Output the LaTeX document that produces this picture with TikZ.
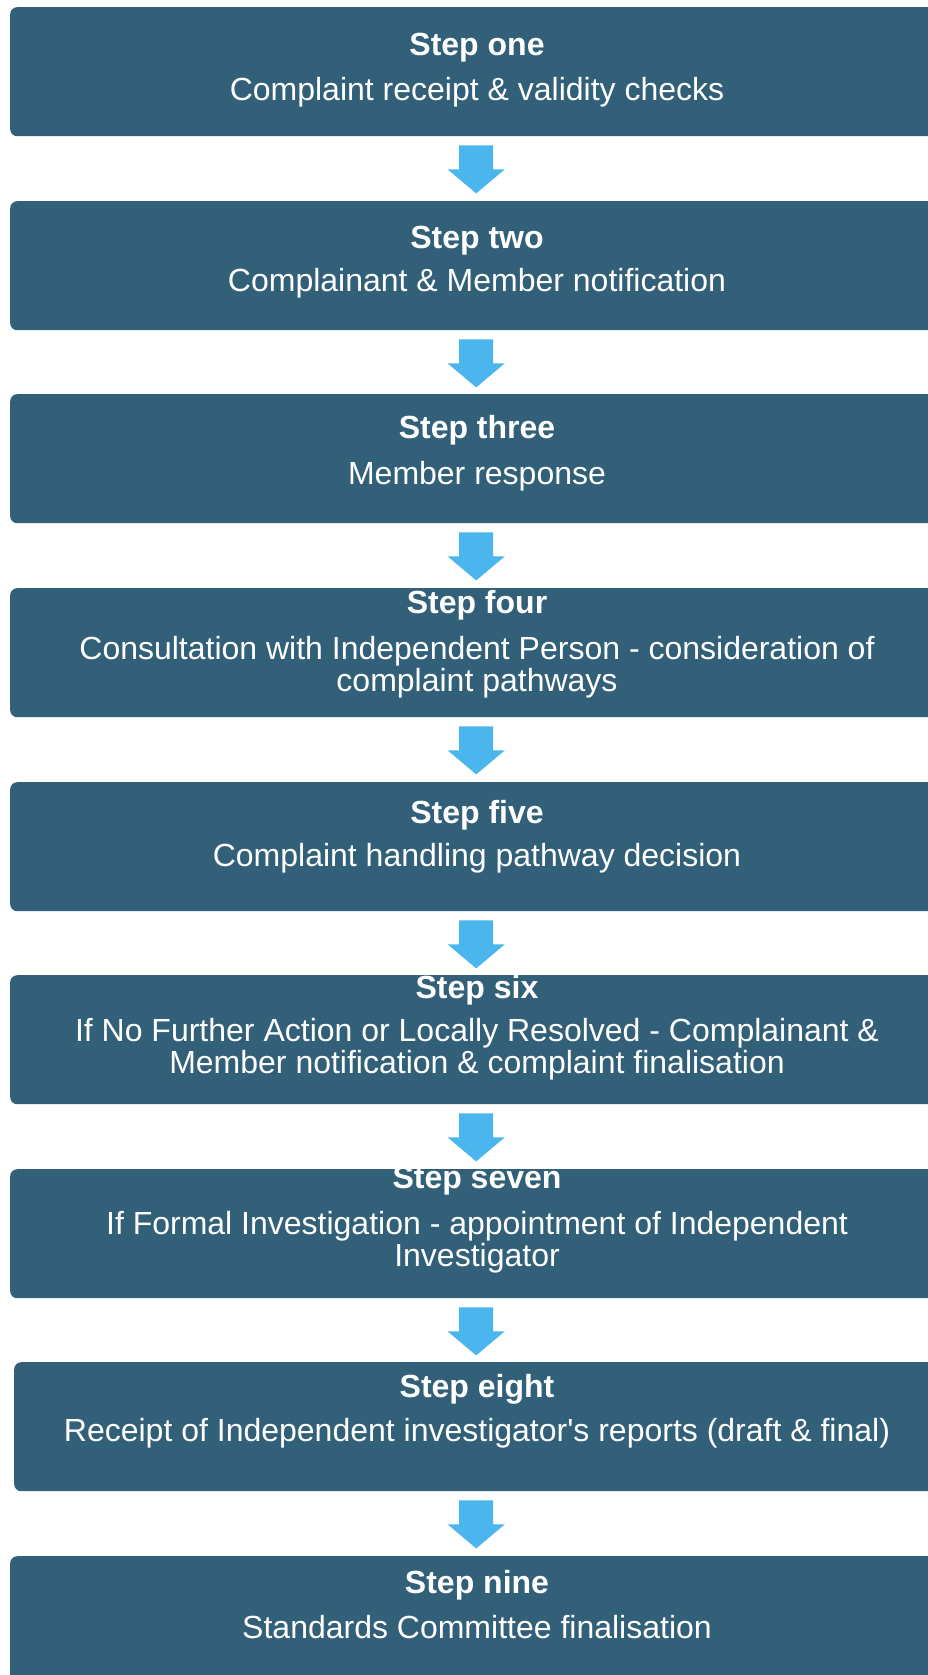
\documentclass[tikz,border=0pt]{standalone}
\usepackage{fontspec}
\setmainfont{Liberation Sans}
\usetikzlibrary{calc}
\definecolor{boxc}{RGB}{50,96,121}
\definecolor{arrc}{RGB}{75,182,238}
\tikzset{
  stepbox/.style={fill=boxc, rounded corners=7pt, minimum width=934pt, minimum height=129pt, anchor=north west, inner sep=0pt},
  ttl/.style={anchor=base, text=white, font=\fontsize{32}{32}\selectfont\bfseries, inner sep=0pt},
  dsc/.style={anchor=base, text=white, font=\fontsize{32}{32}\selectfont, inner sep=0pt},
  flowarrow/.style={fill=arrc}
}
\begin{document}
\begin{tikzpicture}[x=1pt,y=-1pt]
\clip (0,0) rectangle (928,1675);
\fill[white] (0,0) rectangle (928,1675);
% boxes
\node[stepbox] (b1) at (10,7) {};
\node[stepbox] (b2) at (10,201) {};
\node[stepbox] (b3) at (10,394) {};
\node[stepbox] (b4) at (10,588) {};
\node[stepbox] (b5) at (10,782) {};
\node[stepbox] (b6) at (10,975) {};
\node[stepbox] (b7) at (10,1169) {};
\node[stepbox, minimum width=930pt] (b8) at (14,1362) {};
\node[stepbox] (b9) at (10,1556) {};
% texts
\node[ttl] (t1) at (477,56) {Step one};
\node[dsc] (d1) at (477,101) {Complaint receipt \& validity checks};
\node[ttl] (t2) at (477,248) {Step two};
\node[dsc] (d2) at (477,291) {Complainant \& Member notification};
\node[ttl] (t3) at (477,438) {Step three};
\node[dsc] (d3) at (477,484) {Member response};
\node[ttl] (t4) at (477,613) {Step four};
\node[dsc] (d4a) at (477,659) {Consultation with Independent Person - consideration of};
\node[dsc] (d4b) at (477,691) {complaint pathways};
\node[ttl] (t5) at (477,823) {Step five};
\node[dsc] (d5) at (477,866) {Complaint handling pathway decision};
\node[ttl] (t6) at (477,998) {Step six};
\node[dsc] (d6a) at (477,1041) {If No Further Action or Locally Resolved - Complainant \&};
\node[dsc] (d6b) at (477,1073) {Member notification \& complaint finalisation};
\node[ttl] (t7) at (477,1188) {Step seven};
\node[dsc] (d7a) at (477,1234) {If Formal Investigation - appointment of Independent};
\node[dsc] (d7b) at (477,1266) {Investigator};
\node[ttl] (t8) at (477,1397) {Step eight};
\node[dsc] (d8) at (477,1441) {Receipt of Independent investigator\textquotesingle s reports (draft \& final)};
\node[ttl] (t9) at (477,1593) {Step nine};
\node[dsc] (d9) at (477,1638) {Standards Committee finalisation};
% block arrows
\foreach \a in {b1,b2,b3,b4,b5,b6,b7}{
  \fill[flowarrow] ($(\a.south)+(-18,9)$) -- ++(34,0) -- ++(0,24) -- ++(11.5,0)
    -- ++(-28.5,24) -- ++(-28.5,-24) -- ++(11.5,0) -- cycle;
}
\fill[flowarrow] ($(b8.south)+(-20,9)$) -- ++(34,0) -- ++(0,24) -- ++(11.5,0)
    -- ++(-28.5,24) -- ++(-28.5,-24) -- ++(11.5,0) -- cycle;
\end{tikzpicture}
\end{document}
